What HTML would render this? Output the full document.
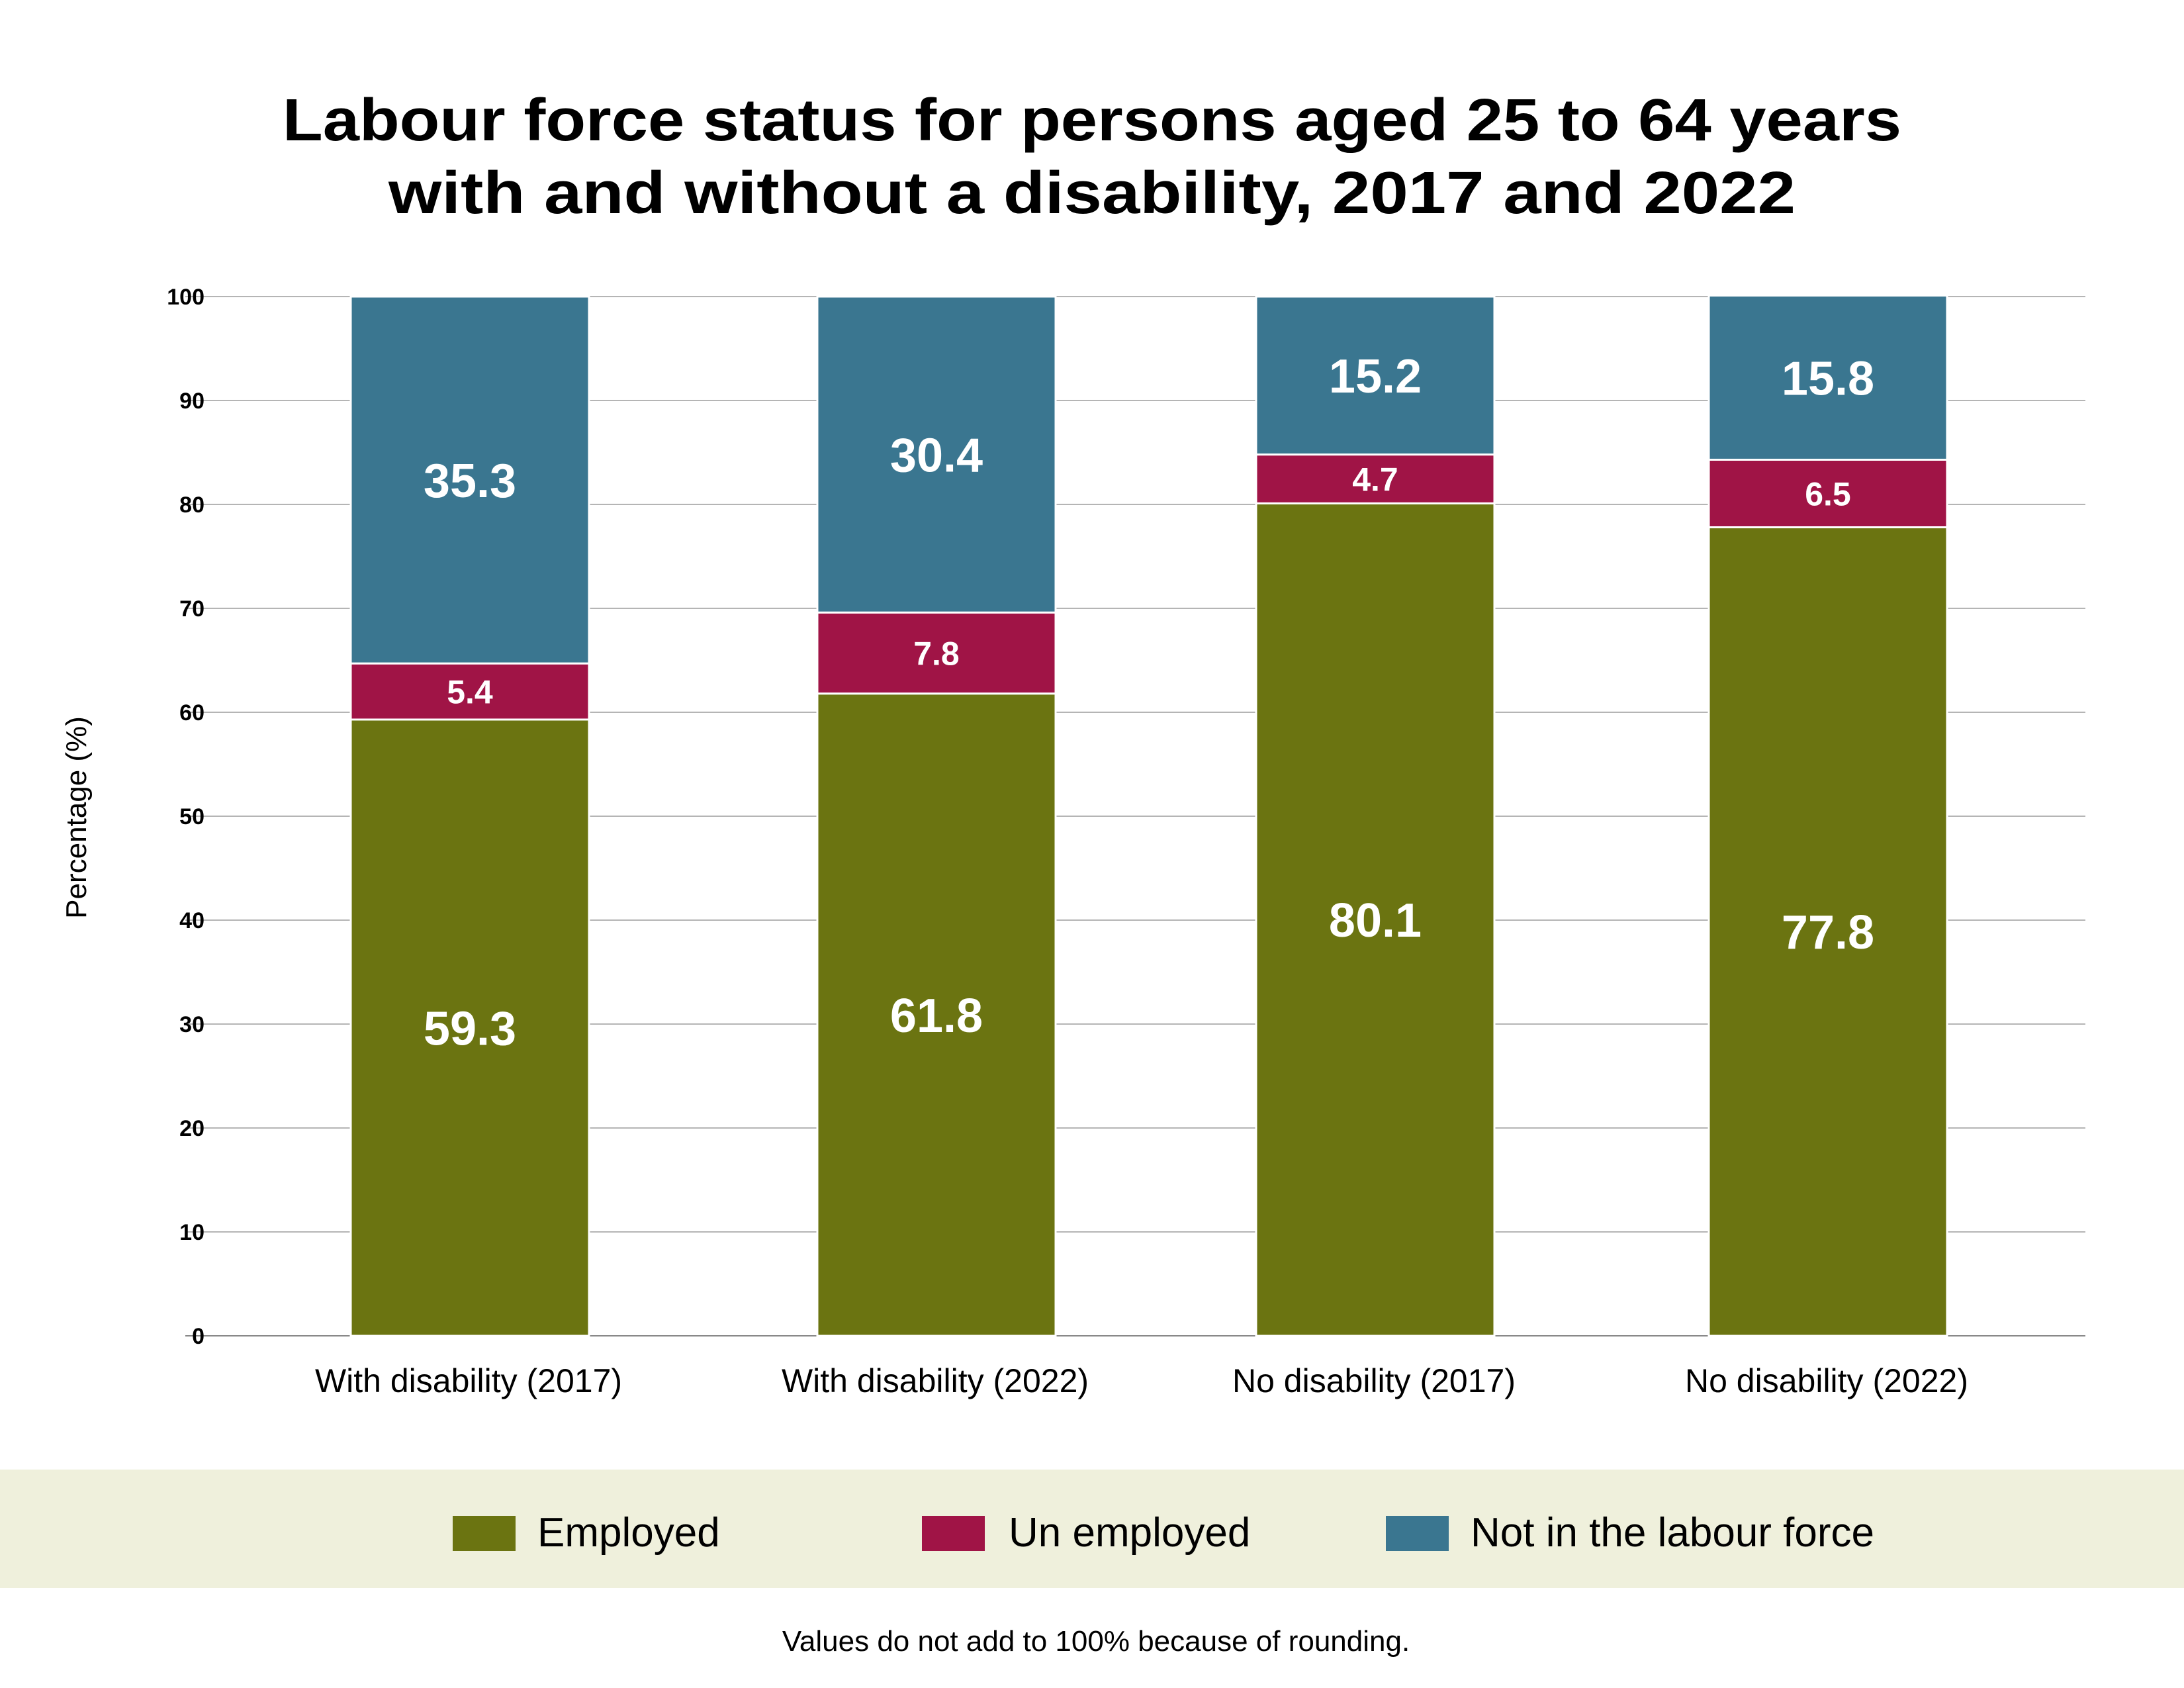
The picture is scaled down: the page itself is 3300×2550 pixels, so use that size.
<!DOCTYPE html>
<html><head><meta charset="utf-8"><style>
html,body{margin:0;padding:0;background:#fff;}
svg{display:block;font-family:"Liberation Sans",sans-serif;}
</style></head><body>
<svg id="chart" width="3300" height="2550" viewBox="0 0 3300 2550" xmlns="http://www.w3.org/2000/svg">
<text x="1650" y="212" text-anchor="middle" font-size="90" font-weight="bold" textLength="2446" lengthAdjust="spacingAndGlyphs">Labour force status for persons aged 25 to 64 years</text>
<text x="1650" y="322" text-anchor="middle" font-size="90" font-weight="bold" textLength="2126" lengthAdjust="spacingAndGlyphs">with and without a disability, 2017 and 2022</text>
<g id="grid"></g>
<g id="bars"></g>
<text transform="translate(130,1235) rotate(-90)" text-anchor="middle" font-size="44">Percentage (%)</text>
<rect x="0" y="2220" width="3300" height="179" fill="#eff0dc"/>
<g>
<rect x="684" y="2290" width="95" height="53" fill="#6b7411"/>
<text x="812" y="2336" font-size="62">Employed</text></g>
<g>
<rect x="1393" y="2290" width="95" height="53" fill="#a01446"/>
<text x="1524" y="2336" font-size="62">Un employed</text></g>
<g>
<rect x="2094" y="2290" width="95" height="53" fill="#3a7690"/>
<text x="2222" y="2336" font-size="62">Not in the labour force</text></g>
<text x="1656" y="2494" text-anchor="middle" font-size="44">Values do not add to 100% because of rounding.</text>
</svg>
<script>
const categories = ["With disability (2017)","With disability (2022)","No disability (2017)","No disability (2022)"];
const employed = [59.3, 61.8, 80.1, 77.8];
const unemployed = [5.4, 7.8, 4.7, 6.5];
const notInLabour = [35.3, 30.4, 15.2, 15.8];
const yTicks = [0,10,20,30,40,50,60,70,80,90,100];

const NS = "http://www.w3.org/2000/svg";
const y0 = 2018, y100 = 448, xL = 280, xR = 3151;
const centers = [710, 1415, 2078, 2762];
const bw = 360;
const yScale = v => y0 - (v/100)*(y0-y100);
const xScale = i => centers[i];
function mk(tag, attrs, parent){const e=document.createElementNS(NS,tag);for(const k in attrs)e.setAttribute(k,attrs[k]);parent.appendChild(e);return e;}

const grid = document.getElementById('grid');
yTicks.forEach(t=>{
  const l = mk('line',{x1:xL,x2:xR,y1:yScale(t),y2:yScale(t),stroke:t===0?'#888':'#b5b5b5','stroke-width':2},grid);
  
  
  const tx = mk('text',{x:309,y:yScale(t)+12,'text-anchor':'end','font-size':34,'font-weight':'bold'},grid);
  tx.textContent = t;
  
  
});

const bars = document.getElementById('bars');
const series = [
  {vals:employed, color:'#6b7411', name:'employed'},
  {vals:unemployed, color:'#a01446', name:'unemployed'},
  {vals:notInLabour, color:'#3a7690', name:'not-in-labour-force'}
];
categories.forEach((c,i)=>{
  let base = 0;
  const cx = xScale(i);
  series.forEach(s=>{
    const v = s.vals[i];
    const yTop = yScale(base+v), yBot = yScale(base);
    const r = mk('rect',{x:cx-bw/2,y:yTop,width:bw,height:yBot-yTop,fill:s.color,stroke:'#fff','stroke-width':3},bars);
    
    
    const small = v < 10;
    const fs = small ? 50 : 72;
    const t = mk('text',{x:cx,y:(yTop+yBot)/2+fs*0.36,'text-anchor':'middle','font-size':fs,'font-weight':'bold',fill:'#fff'},bars);
    t.textContent = v.toFixed(1);
    
    
    base += v;
  });
  const xl = mk('text',{x:cx-2,y:2103,'text-anchor':'middle','font-size':50},bars);
  xl.textContent = c;
  
  
});
</script>
</body></html>
